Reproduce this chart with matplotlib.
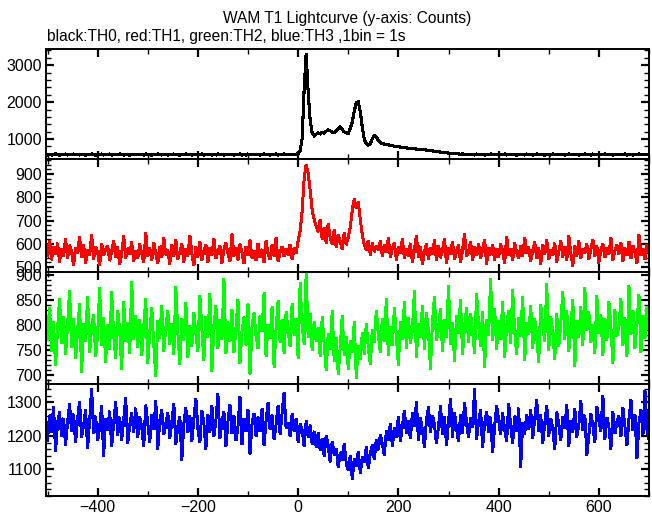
import numpy as np
import matplotlib.pyplot as plt
from matplotlib.ticker import MultipleLocator

plt.rcParams['font.family'] = ['Liberation Sans', 'DejaVu Sans']

# time bins (s), 4 s resolution
time = np.arange(-500, 701, 4)

th0 = [
    572, 590, 566, 584, 598, 575, 561, 588, 579, 594, 568, 583, 571, 596, 580,
    585, 569, 592, 577, 563, 589, 581, 597, 574, 566, 586, 578, 593, 570, 582,
    576, 594, 565, 587, 579, 571, 599, 583, 568, 590, 575, 562, 588, 581, 573,
    591, 578, 584, 567, 595, 573, 580, 564, 589, 576, 598, 582, 569, 587, 574,
    568, 586, 579, 593, 571, 584, 562, 590, 577, 596, 574, 583, 565, 592, 580,
    587, 573, 595, 569, 582, 578, 591, 566, 585, 571, 597, 576, 588, 563, 579,
    574, 592, 581, 567, 589, 575, 598, 570, 584, 561, 593, 579, 586, 572, 590,
    583, 566, 577, 594, 572, 587, 564, 591, 578, 595, 569, 585, 576, 598, 571,
    580, 588, 573, 592, 584, 605, 690, 1010, 2350, 3320, 2280, 1520, 1160, 1090, 1130,
    1170, 1140, 1185, 1165, 1215, 1250, 1225, 1185, 1175, 1235, 1290, 1325, 1255, 1195, 1165,
    1150, 1290, 1460, 1760, 1990, 2010, 1740, 1330, 990, 870, 835, 880, 1010, 1095, 1050,
    960, 905, 880, 865, 850, 842, 828, 822, 806, 798, 792, 779, 771, 768, 758,
    752, 748, 740, 737, 730, 724, 722, 714, 709, 702, 694, 688, 679, 672, 663,
    655, 648, 640, 636, 628, 622, 615, 610, 606, 601, 597, 593, 596, 588, 592,
    577, 592, 584, 569, 595, 581, 573, 588, 566, 590, 579, 597, 572, 585, 576,
    589, 571, 583, 596, 568, 587, 578, 593, 574, 562, 591, 580, 586, 569, 594,
    575, 590, 566, 584, 598, 573, 588, 579, 564, 592, 583, 570, 595, 577, 586,
    593, 578, 587, 567, 582, 596, 574, 589, 571, 585, 563, 591, 579, 597, 572,
    581, 569, 594, 576, 590, 565, 587, 583, 598, 573, 579, 592, 568, 585, 577,
    588, 574, 583, 595, 570, 586, 578, 564, 591, 581, 596, 572, 587, 579, 584,
    576,
]

th1 = [
    548, 612, 531, 587, 556, 603, 522, 578, 545, 621, 538, 594, 567, 509, 583,
    561, 629, 540, 596, 518, 575, 552, 640, 533, 589, 564, 507, 601, 549, 577,
    592, 527, 568, 615, 543, 586, 511, 559, 634, 538, 581, 555, 608, 524, 570,
    536, 599, 557, 520, 648, 546, 583, 529, 605, 562, 517, 590, 541, 626, 553,
    574, 513, 597, 548, 619, 535, 566, 601, 522, 579, 545, 637, 558, 506, 588,
    543, 610, 528, 571, 596, 519, 582, 550, 624, 537, 568, 593, 515, 576, 605,
    558, 525, 642, 547, 584, 531, 599, 563, 514, 588, 551, 617, 539, 572, 529,
    602, 541, 577, 519, 613, 556, 534, 595, 548, 627, 523, 566, 589, 545, 580,
    552, 598, 534, 581, 560, 612, 655, 740, 880, 940, 905, 830, 745, 705, 676,
    652, 704, 618, 671, 602, 688, 625, 597, 663, 584, 641, 609, 578, 649, 596,
    628, 672, 745, 795, 752, 781, 705, 640, 596, 571, 615, 552, 603, 566, 590,
    574, 612, 547, 598, 563, 625, 541, 582, 606, 529, 587, 558, 621, 536, 579,
    548, 603, 521, 575, 636, 543, 590, 512, 567, 601, 535, 584, 556, 618, 527,
    593, 540, 571, 624, 515, 582, 557, 609, 532, 568, 596, 519, 575, 643, 546,
    565, 611, 528, 587, 549, 602, 536, 574, 620, 511, 585, 553, 596, 530, 578,
    542, 599, 568, 516, 633, 551, 580, 527, 606, 562, 538, 591, 545, 628, 559,
    587, 524, 571, 608, 539, 582, 513, 597, 556, 619, 532, 574, 550, 603, 521,
    566, 613, 543, 589, 527, 635, 558, 505, 592, 548, 615, 537, 579, 561, 600,
    534, 578, 620, 546, 591, 518, 573, 602, 540, 585, 554, 627, 529, 571, 596,
    557, 604, 525, 583, 549, 611, 536, 592, 563, 518, 640, 551, 577, 532, 598,
    563,
]

th2 = [
    772, 835, 748, 806, 719, 791, 853, 764, 817, 741, 798, 869, 755, 812, 733,
    789, 842, 706, 803, 768, 857, 745, 796, 821, 737, 780, 874, 759, 814, 726,
    801, 752, 866, 779, 734, 829, 790, 711, 846, 768, 805, 743, 887, 771, 818,
    756, 811, 739, 797, 852, 724, 786, 834, 761, 698, 808, 773, 839, 747, 795,
    828, 762, 803, 741, 876, 785, 722, 813, 769, 845, 736, 798, 757, 824, 782,
    747, 859, 791, 730, 817, 776, 862, 708, 799, 838, 754, 811, 771, 893, 743,
    806, 767, 831, 745, 794, 851, 723, 788, 816, 760, 843, 701, 797, 824, 778,
    753, 819, 787, 864, 737, 801, 773, 836, 716, 792, 848, 765, 810, 744, 826,
    790, 757, 843, 779, 812, 734, 885, 798, 761, 903, 776, 822, 749, 806, 768,
    795, 738, 816, 760, 709, 783, 752, 828, 727, 774, 701, 757, 819, 739, 776,
    712, 768, 745, 806, 694, 759, 731, 784, 742, 803, 755, 721, 790, 766, 829,
    781, 745, 813, 768, 852, 739, 797, 760, 834, 778, 719, 806, 772, 847, 753,
    815, 764, 791, 868, 736, 802, 775, 839, 751, 824, 788, 712, 807, 856, 769,
    793, 832, 748, 811, 775, 879, 762, 805, 727, 818, 784, 851, 741, 797, 834,
    766, 822, 789, 744, 863, 801, 757, 826, 715, 810, 779, 892, 770, 833, 752,
    808, 771, 846, 735, 799, 828, 763, 870, 787, 742, 815, 778, 857, 729, 804,
    781, 839, 754, 812, 776, 725, 841, 795, 768, 883, 749, 817, 786, 731, 822,
    757, 803, 866, 772, 829, 747, 794, 851, 718, 808, 775, 836, 760, 874, 789,
    826, 765, 800, 744, 858, 783, 821, 739, 812, 769, 847, 796, 723, 831, 778,
    797, 852, 760, 815, 738, 878, 782, 829, 754, 806, 861, 745, 819, 773, 836,
    790,
]

th3 = [
    1186, 1262, 1209, 1288, 1154, 1237, 1271, 1198, 1253, 1172, 1241, 1296, 1213, 1265, 1180,
    1249, 1303, 1196, 1231, 1278, 1163, 1244, 1342, 1207, 1259, 1185, 1226, 1290, 1139, 1252,
    1217, 1274, 1168, 1239, 1301, 1202, 1256, 1187, 1248, 1315, 1176, 1233, 1268, 1210, 1283,
    1194, 1257, 1225, 1169, 1292, 1238, 1181, 1264, 1218, 1305, 1159, 1246, 1277, 1203, 1235,
    1268, 1191, 1242, 1297, 1174, 1229, 1258, 1127, 1236, 1284, 1209, 1261, 1183, 1250, 1312,
    1221, 1179, 1276, 1236, 1160, 1263, 1211, 1289, 1197, 1247, 1325, 1192, 1240, 1272, 1168,
    1243, 1294, 1206, 1260, 1185, 1228, 1318, 1173, 1251, 1214, 1279, 1145, 1237, 1266, 1199,
    1256, 1213, 1281, 1170, 1245, 1300, 1219, 1262, 1188, 1234, 1291, 1205, 1268, 1330, 1222,
    1240, 1198, 1265, 1213, 1252, 1181, 1236, 1219, 1168, 1245, 1196, 1232, 1175, 1214, 1166,
    1209, 1156, 1193, 1138, 1201, 1170, 1122, 1184, 1143, 1162, 1105, 1151, 1126, 1178, 1118,
    1096, 1142, 1070, 1131, 1109, 1154, 1088, 1137, 1120, 1167, 1102, 1148, 1173, 1129, 1189,
    1158, 1203, 1176, 1142, 1215, 1187, 1238, 1169, 1224, 1196, 1257, 1183, 1230, 1275, 1208,
    1244, 1191, 1269, 1227, 1302, 1185, 1253, 1218, 1164, 1247, 1286, 1210, 1261, 1233, 1176,
    1229, 1289, 1203, 1258, 1172, 1243, 1311, 1196, 1270, 1221, 1182, 1264, 1207, 1298, 1238,
    1195, 1254, 1226, 1341, 1188, 1242, 1279, 1166, 1235, 1273, 1211, 1256, 1150, 1228, 1290,
    1247, 1203, 1268, 1219, 1184, 1296, 1231, 1176, 1259, 1214, 1283, 1105, 1240, 1205, 1262,
    1220, 1277, 1193, 1249, 1307, 1212, 1263, 1178, 1237, 1291, 1199, 1252, 1224, 1158, 1271,
    1236, 1185, 1258, 1223, 1294, 1167, 1245, 1210, 1281, 1196, 1233, 1304, 1217, 1262, 1142,
    1202, 1266, 1231, 1179, 1287, 1248, 1213, 1320, 1190, 1255, 1227, 1160, 1272, 1206, 1243,
    1259, 1197, 1284, 1226, 1171, 1250, 1308, 1215, 1264, 1133, 1239, 1278, 1204, 1336, 1221,
    1188,
]

series = [th0, th1, th2, th3]
colors = ['black', '#ff0000', '#00ff00', '#0000ff']
ylims = [(460, 3440), (481, 965), (682, 907), (1020, 1355)]
ymajor = [1000, 100, 50, 100]
yminor = [200, 20, 10, 20]

W, H = 652, 515
fig = plt.figure(figsize=(W / 100, H / 100), dpi=100)

# panel edges in pixels from the top
edges = [49, 159, 271.5, 384, 496]
left, right = 46, 649

for i in range(4):
    y0 = 1 - edges[i + 1] / H
    h = (edges[i + 1] - edges[i]) / H
    ax = fig.add_axes([left / W, y0, (right - left) / W, h])
    ax.plot(time, series[i], color=colors[i],
            lw=1.5 if i == 0 else 1.4, antialiased=False, solid_joinstyle='miter')
    ax.set_xlim(-503, 700)
    ax.set_ylim(*ylims[i])
    ax.xaxis.set_major_locator(MultipleLocator(200))
    ax.xaxis.set_minor_locator(MultipleLocator(100))
    ax.yaxis.set_major_locator(MultipleLocator(ymajor[i]))
    ax.yaxis.set_minor_locator(MultipleLocator(yminor[i]))
    ax.tick_params(which='both', direction='in', top=True, right=True,
                   labelsize=11.5, pad=3)
    ax.tick_params(which='major', length=6, width=1.6)
    ax.tick_params(which='minor', length=3.5, width=1.0)
    for s in ax.spines.values():
        s.set_linewidth(1.4)
    if i < 3:
        ax.tick_params(labelbottom=False)

fig.text(347.5 / W, 1 - 19 / H, 'WAM T1 Lightcurve (y-axis: Counts)',
         ha='center', va='center', fontsize=11.2)
fig.text(47 / W, 1 - 36 / H, 'black:TH0, red:TH1, green:TH2, blue:TH3 ,1bin = 1s',
         ha='left', va='center', fontsize=11.2)

fig.savefig('out.png', dpi=100)
